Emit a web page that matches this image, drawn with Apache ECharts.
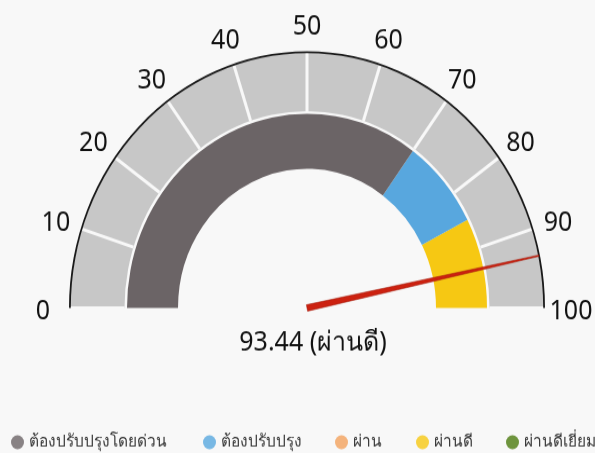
<!DOCTYPE html>
<html>
<head>
<meta charset="utf-8">
<script src="https://cdn.jsdelivr.net/npm/echarts@6/dist/echarts.min.js"></script>
<style>
  html, body { margin: 0; padding: 0; background: #f8f8f8; overflow: hidden; }
  #wrap { width: 595px; height: 453px; overflow: hidden; }
  #chart { width: 595px; height: 420px; transform: scaleY(1.0786); transform-origin: 0 0; }
</style>
</head>
<body>
<div id="wrap"><div id="chart"></div></div>
<script>
// ---- data ----
const gaugeMin = 0;
const gaugeMax = 100;
const tickLabels = ['0', '10', '20', '30', '40', '50', '60', '70', '80', '90', '100'];
const legendNames = ['ต้องปรับปรุงโดยด่วน', 'ต้องปรับปรุง', 'ผ่าน', 'ผ่านดี', 'ผ่านดีเยี่ยม'];
const bandEnds = [70, 85, 100];              // inner coloured band boundaries
const bandLegendIndex = [0, 1, 3];           // which legend category each band shows
const scoreValue = 93.44;
const scoreStatus = 'ผ่านดี';

// ---- styles / layout ----
const legendColors = ['#6b6466', '#58a7de', '#f3a15c', '#f6c813', '#4b7a0e'];
const legendLefts = [11, 203, 335, 416, 506];
const cx = 307, cy = 285.5;
const labelR = 264, labelW = 50, labelH = 30, labelDy = 3;

const chart = echarts.init(document.getElementById('chart'), null, { renderer: 'canvas' });

const bandColorStops = bandEnds.map((v, i) => [(v - gaugeMin) / (gaugeMax - gaugeMin), legendColors[bandLegendIndex[i]]]);
const nTicks = tickLabels.length - 1;
const tickIndex = v => Math.round((v - gaugeMin) / (gaugeMax - gaugeMin) * nTicks);

const common = {
  type: 'gauge',
  center: [cx, cy],
  startAngle: 180,
  endAngle: 0,
  min: gaugeMin,
  max: gaugeMax,
  splitNumber: nTicks,
  axisTick: { show: false },
  axisLabel: { show: false },
  splitLine: { show: false },
  pointer: { show: false },
  anchor: { show: false },
  title: { show: false },
  detail: { show: false },
  silent: true,
  animation: false
};

// label groups, by the alignment ECharts applies to each tick angle
// shift compensates the box offset so that the text centre sits on labelR
function labelGroup(indices, shiftX, shiftY) {
  return Object.assign({}, common, {
    center: [cx + shiftX, cy + shiftY + labelDy],
    radius: labelR,
    axisLine: { show: false, lineStyle: { width: 0 } },
    splitLine: { show: false, distance: 0, length: 0 },
    axisLabel: {
      show: true,
      distance: 0,
      formatter: function (v) {
        const i = tickIndex(v);
        return indices.indexOf(i) >= 0 ? '{t|' + tickLabels[i] + '}' : '';
      },
      rich: {
        t: { width: labelW, height: labelH, lineHeight: labelH, align: 'center', verticalAlign: 'middle',
             fontSize: 25, color: '#111', fontFamily: 'Noto Sans, sans-serif' }
      }
    }
  });
}

const option = {
  backgroundColor: '#f8f8f8',
  animation: false,
  grid: { show: false, left: 0, top: 0, width: 10, height: 10 },
  xAxis: { show: false, type: 'value' },
  yAxis: { show: false, type: 'value' },
  legend: legendNames.map((n, i) => ({
    left: legendLefts[i],
    top: 402,
    padding: 0,
    icon: 'circle',
    itemWidth: 13,
    itemHeight: 13,
    selectedMode: false,
    textStyle: { fontSize: 15.5, color: '#3a3a3a', fontFamily: 'Noto Sans, sans-serif' },
    data: [n]
  })),
  series: [
    // legend carriers (no data)
    ...legendNames.map((n, i) => ({ type: 'scatter', name: n, data: [], itemStyle: { color: legendColors[i] } })),
    // outer light grey ring with white dividers
    Object.assign({}, common, {
      radius: 236.5,
      axisLine: { lineStyle: { width: 54, color: [[1, '#c7c7c7']] } },
      splitLine: { show: true, distance: -54, length: 54, lineStyle: { color: '#f8f8f8', width: 3 } }
    }),
    // thin black outer arc
    Object.assign({}, common, {
      radius: 238,
      axisLine: { lineStyle: { width: 1.8, color: [[1, '#1a1a1a']] } }
    }),
    // inner coloured band
    Object.assign({}, common, {
      radius: 180,
      axisLine: { lineStyle: { width: 51, color: bandColorStops } }
    }),
    // tick labels
    labelGroup([0, 1, 2], -labelW / 2, 0),
    labelGroup([3], -labelW / 2, -labelH / 2),
    labelGroup([4, 5, 6], 0, -labelH / 2),
    labelGroup([7], labelW / 2, -labelH / 2),
    labelGroup([8, 9, 10], labelW / 2, 0),
    // pointer + value
    Object.assign({}, common, {
      radius: 237,
      axisLine: { show: false, lineStyle: { width: 0 } },
      pointer: {
        show: true,
        icon: 'path://M1.6,0 L2.4,0 L4,100 L0,100 Z',
        length: '100%',
        width: 6,
        offsetCenter: [0, 0],
        itemStyle: { color: '#cc2110', borderColor: '#a01a0c', borderWidth: 0.5 }
      },
      detail: {
        show: true,
        offsetCenter: [6, 32],
        fontSize: 25,
        fontWeight: 'normal',
        color: '#111',
        fontFamily: 'Noto Sans, sans-serif',
        formatter: function (v) { return v.toFixed(2) + ' (' + scoreStatus + ')'; }
      },
      data: [{ value: scoreValue }]
    })
  ]
};
chart.setOption(option);
</script>
</body>
</html>
